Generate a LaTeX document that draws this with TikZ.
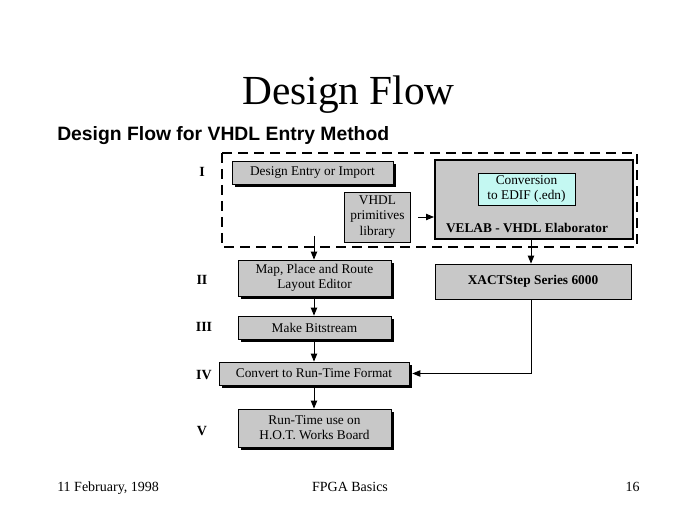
\documentclass[tikz,border=0pt]{standalone}
\usepackage{fontspec}
\setmainfont{Liberation Serif}
\newfontfamily\headfont{Liberation Sans}
\usetikzlibrary{arrows.meta,positioning,shadows}
\definecolor{BoxGray}{HTML}{C8C8C8}
\definecolor{Aqua}{HTML}{C4F8F2}
\tikzset{
  box/.style={draw=black,fill=BoxGray,line width=.6pt,align=center,inner sep=0pt,font=\fontsize{10}{11.5}\selectfont},
  shbox/.style={box,drop shadow={shadow xshift=2.2pt,shadow yshift=-2.2pt,fill=black,opacity=1}},
  conv/.style={box,fill=Aqua},
  stage/.style={font=\bfseries\fontsize{10.5}{12}\selectfont},
  foot/.style={inner sep=0pt,font=\fontsize{10.5}{12}\selectfont},
  frame/.style={draw=black,line width=2.2pt,dash pattern=on 7.5pt off 4.5pt},
  flow/.style={-{Triangle[length=6pt,width=4.8pt]},draw=black,line width=.7pt}
}
\begin{document}
\begin{tikzpicture}[x=.75pt,y=-.75pt]
      \useasboundingbox[fill=white] (0,0) rectangle (700,520);
      % headings
      \node[anchor=base,font=\fontsize{31}{34}\selectfont] (title) at (348.5,105) {Design Flow};
      \node[anchor=base west,inner sep=0pt,font=\headfont\bfseries\fontsize{14.5}{16}\selectfont] (sub) at (57,141) {Design Flow for VHDL Entry Method};
      % stage I
      \draw[frame] (222,153) rectangle (637,247);
      \node[shbox,minimum width=120.75pt,minimum height=17.25pt] (entry) at (312.5,172.5) {Design Entry or Import};
      \node[box,minimum width=49.5pt,minimum height=37.5pt] (lib) at (377.5,217) {VHDL\\primitives\\library};
      \node[box,line width=1.5pt,minimum width=148.5pt,minimum height=59.25pt] (velab) at (534,199.5) {};
      \node[conv,line width=.4pt,minimum width=72.75pt,minimum height=24pt] (edif) at (526.5,189) {Conversion\\to EDIF (.edn)};
      \node[font=\bfseries\fontsize{10}{12}\selectfont] (velabtxt) at (527,228) {VELAB - VHDL Elaborator};
      % stages II to V
      \node[shbox,minimum width=114.75pt,minimum height=27pt] (map) at (314.5,278) {Map, Place and Route\\Layout Editor};
      \node[box,font=\bfseries\fontsize{10}{12}\selectfont,minimum width=147pt,minimum height=26.25pt] (xact) at (533,281.5) {XACTStep Series 6000};
      \node[shbox,minimum width=114.75pt,minimum height=17.25pt] (make) at (314.5,327.5) {Make Bitstream};
      \node[shbox,minimum width=142.5pt,minimum height=17.25pt] (rtf) at (314,373.5) {Convert to Run-Time Format};
      \node[shbox,minimum width=114.75pt,minimum height=28.5pt] (run) at (314.5,428) {Run-Time use on\\H.O.T. Works Board};
      % stage numbers
      \node[stage] (s1) at (202,172) {I};
      \node[stage] (s2) at (202,280) {II};
      \node[stage] (s3) at (204,327) {III};
      \node[stage] (s4) at (204,375) {IV};
      \node[stage] (s5) at (202,431) {V};
      % connectors
      \coordinate (lefttop) at (314,236);
      \coordinate (righttop) at (531,239);
      \coordinate (libout) at (418,217);
      \draw[flow] (libout) -- (velab.west |- libout);
      \draw[flow] (lefttop) -- (map.north -| lefttop);
      \draw[flow] (righttop) -- (xact.north -| righttop);
      \draw[flow] (map.south -| lefttop) -- (make.north -| lefttop);
      \draw[flow] (make.south -| lefttop) -- (rtf.north -| lefttop);
      \draw[flow] (rtf.south -| lefttop) -- (run.north -| lefttop);
      \draw[flow] (xact.south -| righttop) |- ([xshift=2.2pt]rtf.east);
      % footer
      \node[foot,anchor=base west] (date) at (57,491) {11 February, 1998};
      \node[foot,anchor=base] (topic) at (350,491) {FPGA Basics};
      \node[foot,anchor=base east] (page) at (640,491) {16};
    \end{tikzpicture}
\end{document}
